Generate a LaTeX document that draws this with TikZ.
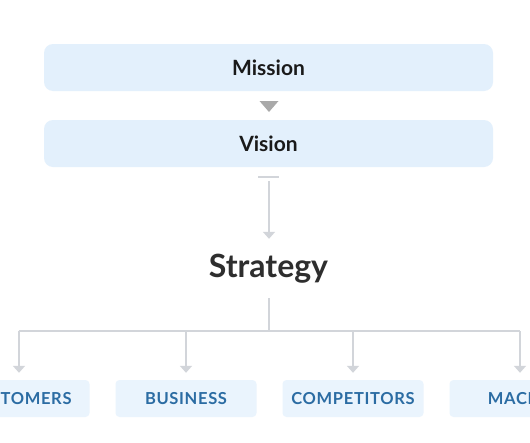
\documentclass[tikz,border=0pt]{standalone}
\usepackage{fontspec}
\setmainfont{Lato}
\newfontfamily\labelfont[LetterSpace=4]{Lato}
\usetikzlibrary{arrows.meta}
\definecolor{topfill}{HTML}{E3F0FC}
\definecolor{botfill}{HTML}{EAF4FD}
\definecolor{linegray}{HTML}{D2D5DA}
\definecolor{trigray}{HTML}{A9A9A9}
\definecolor{labelblue}{HTML}{2B6CA3}
\definecolor{darktext}{HTML}{1A1A1A}
\definecolor{strattext}{HTML}{2E2E2E}
\begin{document}
\begin{tikzpicture}[x=1pt,y=-1pt,
  topbox/.style={minimum width=449pt, minimum height=47pt, rounded corners=9pt,
    fill=topfill, text=darktext, font=\bfseries\fontsize{21}{24}\selectfont, inner sep=0pt},
  botbox/.style={minimum width=141pt, minimum height=37pt, rounded corners=4pt,
    fill=botfill, text=labelblue, font=\labelfont\bfseries\fontsize{16.5}{19}\selectfont, inner sep=0pt},
  conn/.style={draw=linegray, line width=1.6pt, -{Triangle[width=12pt,length=7pt]}},
  plain/.style={draw=linegray, line width=1.6pt}]
\useasboundingbox (0,0) rectangle (530,442);
\clip (0,0) rectangle (530,442);
\fill[white] (0,0) rectangle (530,442);
\node[topbox] (mission) at (268.5,67.5) {Mission};
\node[topbox] (vision) at (268.5,143.5) {Vision};
\fill[trigray] (259.5,101) -- (278.5,101) -- (269,112) -- cycle;
\draw[plain, line width=1.2pt] (258,177) -- (279,177);
\node[minimum height=59pt, inner sep=0pt, text=strattext,
  font=\bfseries\fontsize{32}{36}\selectfont] (strategy) at (268.5,268.5) {Strategy};
\coordinate (vtop) at (269,181);
\draw[conn] (vtop) -- (vtop |- strategy.north);
\coordinate (bus) at (269,331);
\coordinate (busL) at (18.5,331);
\coordinate (busR) at (520,331);
\draw[plain] (bus |- strategy.south) -- (bus);
\draw[plain] (busL) -- (busR);
\node[botbox] (cust) at (19,398.5) {CUSTOMERS};
\node[botbox] (bus2) at (186,398.5) {BUSINESS};
\node[botbox] (comp) at (353,398.5) {COMPETITORS};
\node[botbox] (macro) at (520,398.5) {MACRO};
\foreach \n in {cust,bus2,comp,macro}{
  \draw[conn, shorten >=7pt] (busL -| \n.north) -- (\n.north);
}
\end{tikzpicture}
\end{document}
